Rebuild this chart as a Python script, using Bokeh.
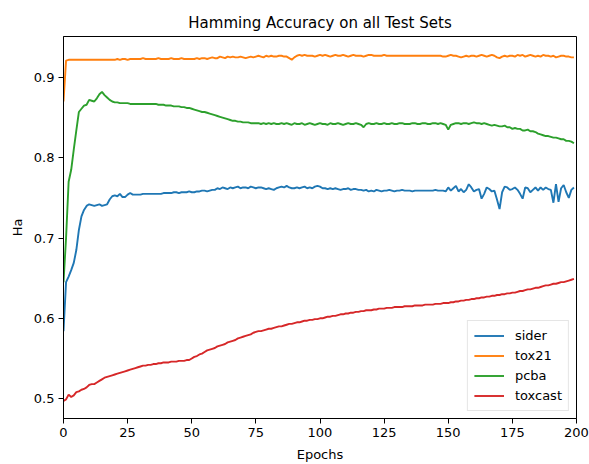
from bokeh.plotting import figure
from bokeh.models import Range1d, FixedTicker, Legend, LegendItem
from bokeh.embed import file_html
from bokeh.resources import INLINE

epochs = list(range(200))

sider = [
    0.584, 0.645, 0.652, 0.660, 0.669, 0.685, 0.710, 0.727, 0.735, 0.740,
    0.742, 0.741, 0.740, 0.741, 0.742, 0.740, 0.741, 0.742, 0.748, 0.752,
    0.753, 0.752, 0.755, 0.751, 0.751, 0.754, 0.756, 0.754, 0.754, 0.754,
    0.754, 0.755, 0.755, 0.755, 0.755, 0.755, 0.755, 0.755, 0.755, 0.756,
    0.756, 0.756, 0.756, 0.757, 0.757, 0.756, 0.757, 0.757, 0.757, 0.758,
    0.757, 0.757, 0.758, 0.758, 0.759, 0.759, 0.758, 0.759, 0.760, 0.760,
    0.762, 0.761, 0.763, 0.762, 0.761, 0.763, 0.762, 0.763, 0.764, 0.762,
    0.763, 0.763, 0.762, 0.764, 0.763, 0.762, 0.763, 0.763, 0.762, 0.761,
    0.762, 0.761, 0.760, 0.762, 0.763, 0.764, 0.763, 0.765, 0.763, 0.762,
    0.762, 0.763, 0.762, 0.763, 0.764, 0.762, 0.763, 0.762, 0.764, 0.765,
    0.764, 0.762, 0.762, 0.761, 0.762, 0.761, 0.762, 0.761, 0.760, 0.761,
    0.761, 0.762, 0.760, 0.761, 0.761, 0.760, 0.760, 0.759, 0.760, 0.758,
    0.759, 0.758, 0.760, 0.759, 0.758, 0.759, 0.759, 0.760, 0.759, 0.758,
    0.759, 0.759, 0.760, 0.759, 0.759, 0.759, 0.758, 0.759, 0.759, 0.759,
    0.759, 0.759, 0.759, 0.759, 0.759, 0.760, 0.759, 0.759, 0.759, 0.758,
    0.763, 0.759, 0.762, 0.765, 0.758, 0.761, 0.757, 0.760, 0.767, 0.763,
    0.758, 0.760, 0.761, 0.749, 0.755, 0.763, 0.761, 0.758, 0.759, 0.748,
    0.736, 0.757, 0.764, 0.763, 0.760, 0.761, 0.763, 0.760, 0.755, 0.749,
    0.763, 0.762, 0.757, 0.760, 0.763, 0.759, 0.763, 0.760, 0.763, 0.761,
    0.760, 0.744, 0.767, 0.745, 0.762, 0.766, 0.757, 0.750, 0.760, 0.763,
]

tox21 = [
    0.870, 0.921, 0.922, 0.922, 0.922, 0.922, 0.922, 0.922, 0.922, 0.922,
    0.922, 0.922, 0.922, 0.922, 0.922, 0.922, 0.922, 0.922, 0.922, 0.922,
    0.922, 0.923, 0.922, 0.923, 0.923, 0.922, 0.923, 0.923, 0.923, 0.923,
    0.923, 0.924, 0.923, 0.923, 0.923, 0.923, 0.923, 0.924, 0.923, 0.923,
    0.923, 0.923, 0.924, 0.923, 0.923, 0.923, 0.924, 0.923, 0.923, 0.923,
    0.923, 0.923, 0.924, 0.923, 0.924, 0.924, 0.923, 0.924, 0.925, 0.924,
    0.924, 0.926, 0.925, 0.924, 0.926, 0.925, 0.926, 0.925, 0.925, 0.926,
    0.925, 0.924, 0.925, 0.926, 0.925, 0.926, 0.927, 0.926, 0.925, 0.927,
    0.926, 0.927, 0.926, 0.926, 0.927, 0.927, 0.926, 0.926, 0.924, 0.922,
    0.925, 0.927, 0.928, 0.927, 0.928, 0.927, 0.927, 0.927, 0.926, 0.927,
    0.928, 0.927, 0.928, 0.927, 0.926, 0.927, 0.928, 0.927, 0.927, 0.928,
    0.927, 0.926, 0.927, 0.928, 0.927, 0.927, 0.927, 0.926, 0.927, 0.928,
    0.928, 0.927, 0.927, 0.927, 0.927, 0.928, 0.927, 0.927, 0.927, 0.927,
    0.927, 0.927, 0.927, 0.927, 0.927, 0.927, 0.927, 0.927, 0.927, 0.927,
    0.927, 0.927, 0.927, 0.927, 0.927, 0.927, 0.927, 0.927, 0.926, 0.926,
    0.927, 0.928, 0.927, 0.927, 0.926, 0.925, 0.926, 0.927, 0.926, 0.927,
    0.927, 0.926, 0.927, 0.928, 0.927, 0.926, 0.927, 0.928, 0.927, 0.925,
    0.924, 0.926, 0.927, 0.926, 0.927, 0.927, 0.926, 0.928, 0.927, 0.928,
    0.926, 0.927, 0.928, 0.927, 0.926, 0.927, 0.926, 0.928, 0.927, 0.927,
    0.926, 0.927, 0.925, 0.926, 0.927, 0.927, 0.926, 0.926, 0.925, 0.925,
]

pcba = [
    0.645, 0.700, 0.770, 0.785, 0.810, 0.834, 0.857, 0.861, 0.865, 0.866,
    0.872, 0.871, 0.870, 0.874, 0.879, 0.882, 0.878, 0.875, 0.872, 0.870,
    0.869, 0.869, 0.868, 0.868, 0.868, 0.868, 0.867, 0.867, 0.867, 0.867,
    0.867, 0.867, 0.867, 0.867, 0.867, 0.867, 0.867, 0.866, 0.866, 0.866,
    0.865, 0.865, 0.865, 0.864, 0.864, 0.864, 0.863, 0.863, 0.862, 0.862,
    0.861, 0.860, 0.859, 0.858, 0.857, 0.857, 0.856, 0.855, 0.854, 0.853,
    0.852, 0.851, 0.850, 0.849, 0.848, 0.847, 0.846, 0.846, 0.845, 0.845,
    0.844, 0.844, 0.844, 0.843, 0.843, 0.843, 0.843, 0.842, 0.843, 0.842,
    0.843, 0.842, 0.843, 0.842, 0.842, 0.843, 0.842, 0.843, 0.842, 0.841,
    0.843, 0.842, 0.842, 0.843, 0.841, 0.842, 0.843, 0.842, 0.841, 0.842,
    0.843, 0.842, 0.842, 0.841, 0.843, 0.842, 0.842, 0.843, 0.842, 0.841,
    0.842, 0.843, 0.842, 0.842, 0.843, 0.842, 0.841, 0.838, 0.842, 0.843,
    0.842, 0.842, 0.843, 0.842, 0.842, 0.843, 0.842, 0.842, 0.843, 0.842,
    0.842, 0.843, 0.843, 0.842, 0.842, 0.842, 0.843, 0.843, 0.842, 0.842,
    0.843, 0.843, 0.842, 0.842, 0.843, 0.843, 0.842, 0.843, 0.842, 0.841,
    0.835, 0.841, 0.842, 0.843, 0.843, 0.842, 0.843, 0.843, 0.842, 0.843,
    0.844, 0.843, 0.843, 0.842, 0.843, 0.842, 0.841, 0.840, 0.841, 0.840,
    0.839, 0.839, 0.840, 0.838, 0.838, 0.836, 0.837, 0.836, 0.836, 0.834,
    0.834, 0.835, 0.833, 0.833, 0.832, 0.830, 0.829, 0.828, 0.827, 0.827,
    0.826, 0.825, 0.825, 0.824, 0.823, 0.823, 0.821, 0.821, 0.820, 0.818,
]

toxcast = [
    0.497, 0.499, 0.505, 0.502, 0.504, 0.508, 0.509, 0.511, 0.512, 0.514,
    0.517, 0.518, 0.518, 0.520, 0.522, 0.524, 0.526, 0.527, 0.528, 0.529,
    0.530, 0.531, 0.532, 0.533, 0.534, 0.535, 0.536, 0.537, 0.538, 0.539,
    0.540, 0.541, 0.541, 0.542, 0.542, 0.543, 0.543, 0.544, 0.544, 0.545,
    0.545, 0.545, 0.546, 0.546, 0.546, 0.547, 0.547, 0.547, 0.548, 0.548,
    0.550, 0.552, 0.553, 0.555, 0.556, 0.558, 0.560, 0.561, 0.562, 0.563,
    0.565, 0.566, 0.567, 0.568, 0.570, 0.571, 0.572, 0.573, 0.575, 0.576,
    0.577, 0.578, 0.579, 0.580, 0.582, 0.583, 0.584, 0.584, 0.585, 0.586,
    0.587, 0.587, 0.588, 0.589, 0.590, 0.590, 0.591, 0.592, 0.593, 0.593,
    0.594, 0.595, 0.595, 0.596, 0.597, 0.597, 0.598, 0.598, 0.599, 0.599,
    0.600, 0.600, 0.601, 0.602, 0.602, 0.603, 0.603, 0.604, 0.605, 0.605,
    0.606, 0.606, 0.607, 0.607, 0.608, 0.608, 0.609, 0.609, 0.610, 0.610,
    0.610, 0.611, 0.611, 0.612, 0.612, 0.612, 0.613, 0.613, 0.613, 0.614,
    0.614, 0.614, 0.614, 0.615, 0.615, 0.615, 0.615, 0.616, 0.616, 0.616,
    0.616, 0.617, 0.617, 0.617, 0.617, 0.618, 0.618, 0.618, 0.619, 0.619,
    0.619, 0.620, 0.620, 0.621, 0.621, 0.622, 0.622, 0.623, 0.623, 0.624,
    0.624, 0.625, 0.625, 0.626, 0.626, 0.627, 0.627, 0.628, 0.628, 0.629,
    0.629, 0.630, 0.630, 0.631, 0.631, 0.632, 0.632, 0.633, 0.634, 0.634,
    0.635, 0.636, 0.636, 0.637, 0.638, 0.638, 0.639, 0.640, 0.641, 0.641,
    0.642, 0.643, 0.643, 0.644, 0.645, 0.645, 0.646, 0.647, 0.648, 0.649,
]

series_names = ["sider", "tox21", "pcba", "toxcast"]
series_values = [sider, tox21, pcba, toxcast]
series_colors = ["#1f77b4", "#ff7f0e", "#2ca02c", "#d62728"]

x_ticks = [0, 25, 50, 75, 100, 125, 150, 175, 200]
y_ticks = [0.5, 0.6, 0.7, 0.8, 0.9]

FONT = "DejaVu Sans"

p = figure(
    width=589, height=464,
    output_backend="svg", toolbar_location=None,
    x_range=Range1d(0, 200), y_range=Range1d(0.4752, 0.951),
    min_border_left=63, min_border_right=13,
    min_border_top=36, min_border_bottom=45,
    title="Hamming Accuracy on all Test Sets",
)

p.title.align = "center"
p.title.text_font = FONT
p.title.text_font_size = "15px"
p.title.text_font_style = "normal"
p.title.text_color = "#000000"

p.grid.visible = False
p.outline_line_color = "#000000"
p.outline_line_width = 1
p.background_fill_color = "white"
p.border_fill_color = "white"

for ax in (p.xaxis[0], p.yaxis[0]):
    ax.axis_line_color = "#000000"
    ax.major_tick_line_color = "#000000"
    ax.major_tick_out = 5
    ax.major_tick_in = 0
    ax.minor_tick_line_color = None
    ax.major_label_text_font = FONT
    ax.major_label_text_font_size = "13px"
    ax.major_label_text_color = "#000000"
    ax.axis_label_text_font = FONT
    ax.axis_label_text_font_size = "13px"
    ax.axis_label_text_font_style = "normal"
    ax.axis_label_text_color = "#000000"

p.xaxis.ticker = FixedTicker(ticks=x_ticks)
p.yaxis.ticker = FixedTicker(ticks=y_ticks)
p.xaxis.axis_label = "Epochs"
p.yaxis.axis_label = "Ha"
p.xaxis.major_label_standoff = 4
p.yaxis.major_label_standoff = 4
p.xaxis.axis_label_standoff = 7
p.yaxis.axis_label_standoff = 6

items = []
for name, vals, col in zip(series_names, series_values, series_colors):
    r = p.line(epochs, vals, line_color=col, line_width=1.9)
    items.append(LegendItem(label=name, renderers=[r]))

legend = Legend(
    items=items,
    location="bottom_right",
    margin=7,
    padding=6,
    spacing=3,
    glyph_width=30,
    glyph_height=17,
    label_standoff=11,
    label_text_font=FONT,
    label_text_font_size="13px",
    label_text_color="#000000",
    border_line_color="#cccccc",
    border_line_width=1,
    background_fill_color="white",
    background_fill_alpha=0.8,
)
p.add_layout(legend, "center")

open("out.html", "w").write(file_html(p, INLINE))
